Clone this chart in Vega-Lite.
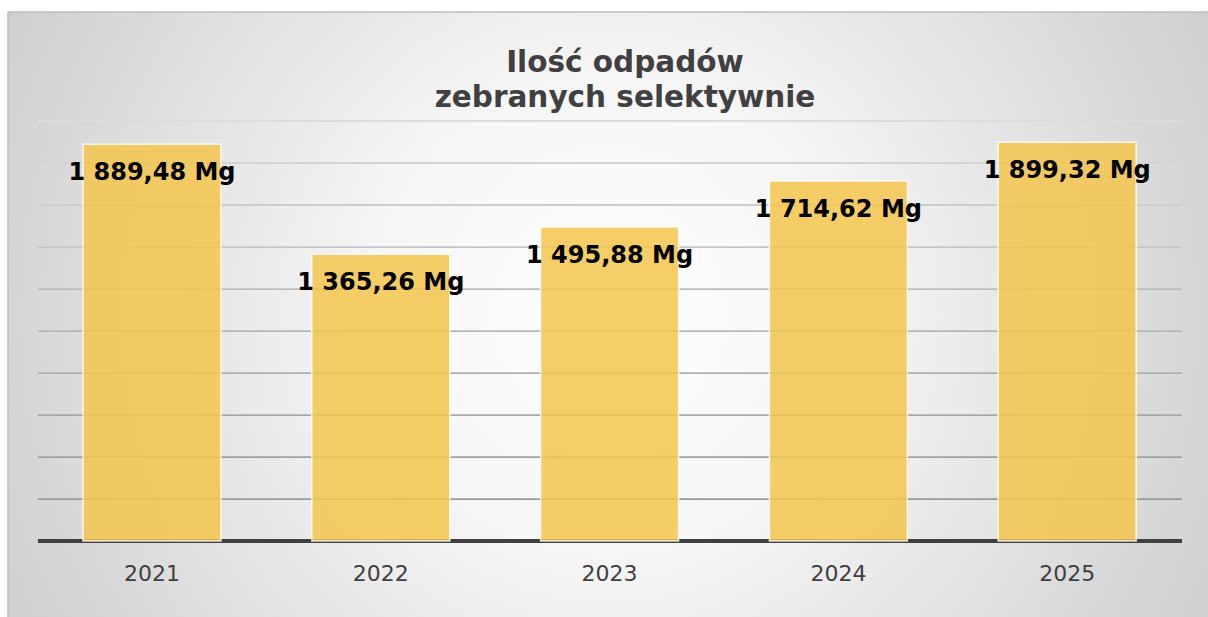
{
  "$schema": "https://vega.github.io/schema/vega-lite/v6.json",
  "width": 1202,
  "height": 607,
  "autosize": {"type": "none"},
  "padding": {"left": 8, "top": 12, "right": 0, "bottom": 0},
  "background": "white",
  "title": {
    "text": ["Ilość odpadów", "zebranych selektywnie"],
    "font": "DejaVu Sans",
    "fontSize": 29.5,
    "fontWeight": "bold",
    "color": "#404040",
    "lineHeight": 35,
    "anchor": "middle",
    "frame": "group",
    "dx": 16,
    "offset": -101
  },
  "config": {
    "locale": {
      "number": {"decimal": ",", "thousands": " ", "grouping": [3], "currency": ["", " Mg"]}
    },
    "view": {
      "stroke": "#bdbdbd",
      "strokeWidth": 1.5,
      "fill": {
        "gradient": "radial",
        "x1": 0.5, "y1": 0.5, "r1": 0,
        "x2": 0.5, "y2": 0.5, "r2": 0.7,
        "stops": [
          {"offset": 0, "color": "#ffffff"},
          {"offset": 0.28, "color": "#f6f6f6"},
          {"offset": 1, "color": "#c0c0c0"}
        ]
      }
    }
  },
  "data": {
    "values": [
      {"year": "2021", "value": 1889.48},
      {"year": "2022", "value": 1365.26},
      {"year": "2023", "value": 1495.88},
      {"year": "2024", "value": 1714.62},
      {"year": "2025", "value": 1899.32}
    ]
  },
  "resolve": {"scale": {"x": "independent", "color": "independent"}},
  "layer": [
    {
      "layer": [
        {
          "data": {"values": [{"v": 200}, {"v": 400}, {"v": 600}, {"v": 800}, {"v": 1000}, {"v": 1200}, {"v": 1400}, {"v": 1600}, {"v": 1800}, {"v": 2000}]},
          "mark": {"type": "rule", "strokeWidth": 1.8},
          "encoding": {
            "y": {"field": "v", "type": "quantitative", "scale": {"domain": [-371, 2519], "nice": false, "zero": false}, "axis": null},
            "x": {"datum": 0, "type": "quantitative", "scale": {"domain": [-0.02622, 1.02448], "nice": false, "zero": false}, "axis": null},
            "x2": {"datum": 1},
            "color": {"field": "v", "type": "quantitative", "scale": {"domain": [200, 2000], "range": ["#9a9a9a", "#dcdcdc"]}, "legend": null}
          }
        },
        {
          "mark": {"type": "rule", "strokeWidth": 3.5, "color": "#404040"},
          "encoding": {
            "y": {"datum": 0, "type": "quantitative"},
            "x": {"datum": 0, "type": "quantitative", "scale": {"domain": [-0.02622, 1.02448], "nice": false, "zero": false}, "axis": null},
            "x2": {"datum": 1}
          }
        }
      ]
    },
    {
      "layer": [
        {
          "mark": {"type": "bar", "color": "#F4C64E", "fillOpacity": 0.85, "stroke": "#ffffff", "strokeWidth": 1.5, "strokeOpacity": 0.8},
          "encoding": {
            "x": {
              "field": "year", "type": "nominal",
              "scale": {"paddingInner": 0.397, "paddingOuter": 0.3252, "align": 0.504},
              "axis": {
                "title": null, "orient": "bottom", "offset": -78, "domain": false, "ticks": false, "tickSize": 0,
                "labelAngle": 0, "labelPadding": 32, "labelBaseline": "middle",
                "labelFont": "DejaVu Sans", "labelFontSize": 22, "labelColor": "#404040", "grid": false
              }
            },
            "y": {"field": "value", "type": "quantitative"}
          }
        },
        {
          "mark": {"type": "text", "dy": 29, "baseline": "middle", "align": "center", "font": "DejaVu Sans", "fontSize": 24, "fontWeight": "bold", "color": "#000000"},
          "encoding": {
            "x": {"field": "year", "type": "nominal"},
            "y": {"field": "value", "type": "quantitative"},
            "text": {"field": "value", "type": "quantitative", "format": "$,.2f"}
          }
        }
      ]
    }
  ]
}
